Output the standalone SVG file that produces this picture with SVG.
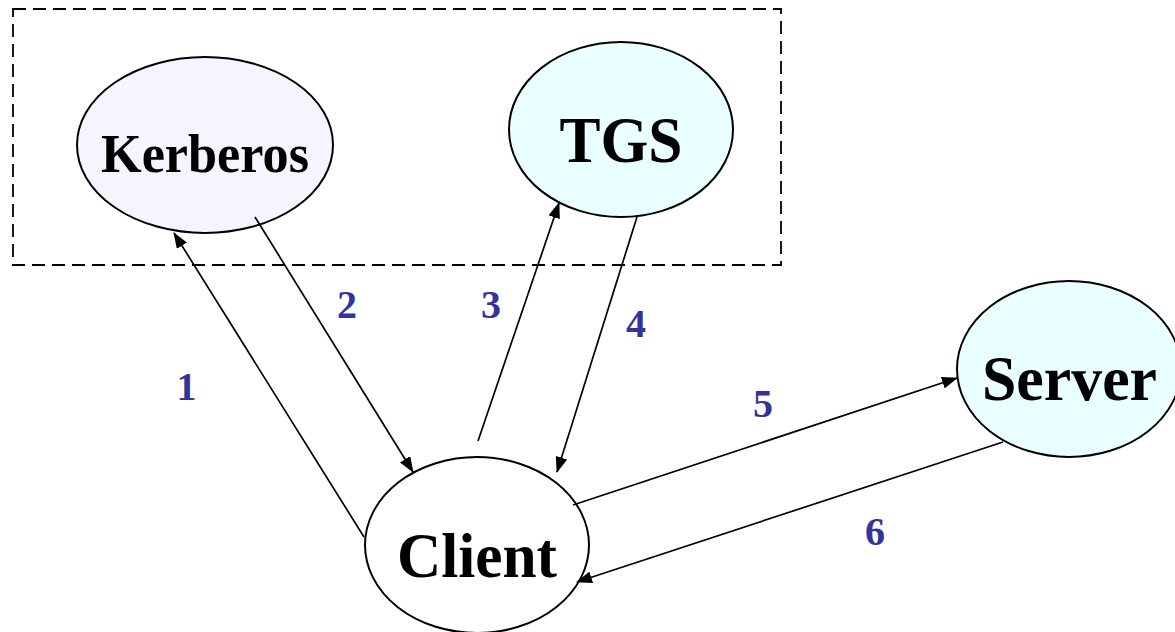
<svg xmlns="http://www.w3.org/2000/svg" width="1175" height="632" viewBox="0 0 1175 632">
  <style>
    .node { stroke: #000; stroke-width: 2; }
    .name { font-family: "Liberation Serif", "Times New Roman", serif; font-weight: bold; fill: #000; text-anchor: middle; }
    .step { font-family: "Liberation Serif", "Times New Roman", serif; font-weight: bold; font-size: 40px; fill: #333399; text-anchor: middle; }
    .link { stroke: #000; stroke-width: 1.7; fill: none; marker-end: url(#arrow); }
  </style>
  <defs>
    <marker id="arrow" viewBox="0 0 16 12" refX="15" refY="6" markerWidth="16" markerHeight="12" markerUnits="userSpaceOnUse" orient="auto">
      <path d="M0,0 L16,6 L0,12 Z" fill="#000"/>
    </marker>
  </defs>

  <rect width="1175" height="632" fill="#fff"/>

  <!-- Key distribution centre boundary -->
  <rect id="kdc" x="13" y="9" width="768" height="256" fill="none" stroke="#000" stroke-width="1.8" stroke-dasharray="13 7"/>

  <g id="kerberos">
    <ellipse class="node" cx="205" cy="145" rx="128" ry="88" fill="#f5f5ff"/>
    <text class="name" x="205" y="172" font-size="54" textLength="208" lengthAdjust="spacingAndGlyphs">Kerberos</text>
  </g>

  <g id="tgs">
    <ellipse class="node" cx="621" cy="129.5" rx="112" ry="87.5" fill="#eaffff"/>
    <text class="name" x="621" y="162" font-size="66" textLength="123" lengthAdjust="spacingAndGlyphs">TGS</text>
  </g>

  <g id="client">
    <ellipse class="node" cx="477" cy="545" rx="112" ry="88" fill="#fff"/>
    <text class="name" x="477" y="577" font-size="64" textLength="160" lengthAdjust="spacingAndGlyphs">Client</text>
  </g>

  <g id="server">
    <ellipse class="node" cx="1069" cy="369" rx="112" ry="88" fill="#eaffff"/>
    <text class="name" x="1069.5" y="400" font-size="64" textLength="175" lengthAdjust="spacingAndGlyphs">Server</text>
  </g>

  <g id="connectors">
    <line class="link" x1="364" y1="537" x2="174" y2="233"/>
    <line class="link" x1="255" y1="217" x2="413" y2="472"/>
    <line class="link" x1="478" y1="441" x2="559" y2="203"/>
    <line class="link" x1="637" y1="217" x2="557" y2="472"/>
    <line class="link" x1="573" y1="505" x2="957" y2="378"/>
    <line class="link" x1="1003" y1="442" x2="577" y2="582"/>
  </g>

  <g id="steps">
    <text class="step" x="186.5" y="400">1</text>
    <text class="step" x="347" y="318">2</text>
    <text class="step" x="491" y="318">3</text>
    <text class="step" x="636" y="337">4</text>
    <text class="step" x="763" y="417">5</text>
    <text class="step" x="875" y="545">6</text>
  </g>
</svg>
